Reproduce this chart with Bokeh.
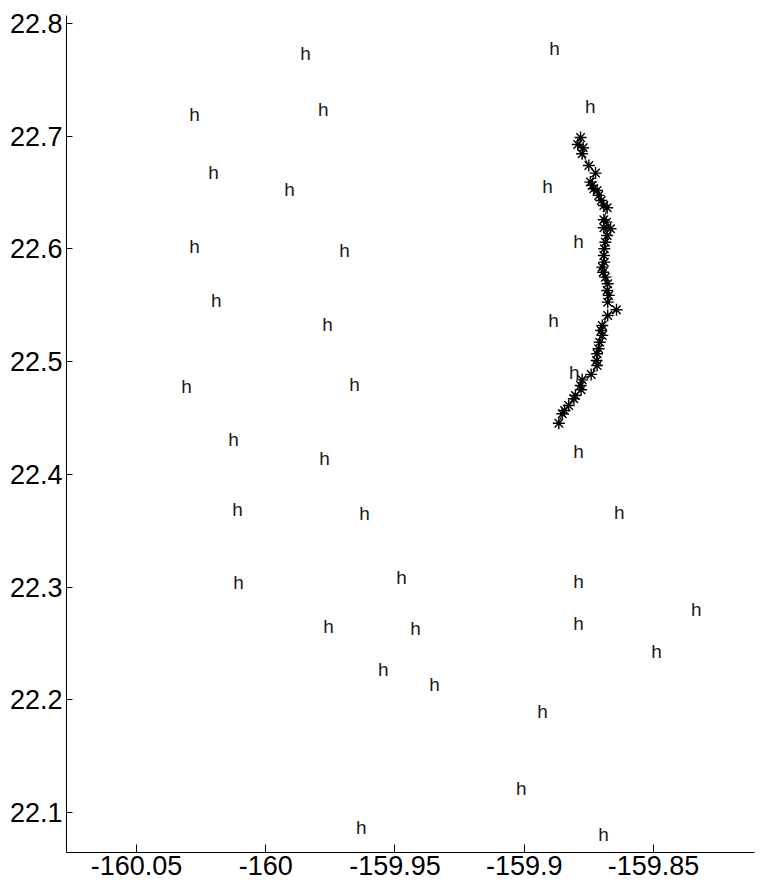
from bokeh.plotting import figure
from bokeh.models import FixedTicker, Range1d
from bokeh.embed import file_html
from bokeh.resources import INLINE
from bokeh.core.properties import value

# ---- data (longitude / latitude) ----
h_lon = [-159.9846, -159.8883, -160.0276, -159.9777, -159.8744, -160.0202, -159.9908,
         -159.8910, -160.0276, -159.9695, -159.8790, -160.0191, -159.9761, -159.8887,
         -160.0307, -159.9657, -159.8806, -160.0125, -159.9773, -159.8790, -160.0109,
         -159.9618, -159.8632, -160.0105, -159.9475, -159.8790, -159.8334, -159.9757,
         -159.9421, -159.8790, -159.9545, -159.8488, -159.9347, -159.8929, -159.9011,
         -159.9630, -159.8693]
h_lat = [22.7734, 22.7778, 22.7193, 22.7237, 22.7264, 22.6678, 22.6527,
         22.6554, 22.6021, 22.5986, 22.6066, 22.5542, 22.5329, 22.5365,
         22.4779, 22.4797, 22.4903, 22.4309, 22.4140, 22.4202, 22.3688,
         22.3652, 22.3661, 22.3040, 22.3084, 22.3049, 22.2800, 22.2650,
         22.2632, 22.2676, 22.2268, 22.2428, 22.2135, 22.1895, 22.1212,
         22.0866, 22.0804]

track_lon = [-159.8782, -159.8793, -159.8772, -159.8776, -159.8750, -159.8724, -159.8744,
             -159.8737, -159.8731, -159.8718, -159.8712, -159.8702, -159.8692, -159.8679,
             -159.8692, -159.8682, -159.8666, -159.8692, -159.8679, -159.8686, -159.8690,
             -159.8692, -159.8690, -159.8698, -159.8695, -159.8686, -159.8677, -159.8679,
             -159.8673, -159.8677, -159.8643, -159.8677, -159.8698, -159.8702, -159.8698,
             -159.8708, -159.8712, -159.8718, -159.8720, -159.8718, -159.8741, -159.8776,
             -159.8782, -159.8780, -159.8802, -159.8808, -159.8828, -159.8844, -159.8853,
             -159.8866]
track_lat = [22.6988, 22.6926, 22.6897, 22.6844, 22.6740, 22.6672, 22.6592,
             22.6563, 22.6533, 22.6518, 22.6474, 22.6429, 22.6385, 22.6365,
             22.6258, 22.6237, 22.6178, 22.6187, 22.6119, 22.6059, 22.6001,
             22.5941, 22.5882, 22.5838, 22.5793, 22.5749, 22.5690, 22.5631,
             22.5587, 22.5527, 22.5460, 22.5409, 22.5320, 22.5276, 22.5232,
             22.5172, 22.5114, 22.5069, 22.5010, 22.4965, 22.4886, 22.4838,
             22.4788, 22.4750, 22.4699, 22.4670, 22.4610, 22.4566, 22.4537,
             22.4453]

x_ticks = [-160.05, -160.0, -159.95, -159.9, -159.85]
x_tick_labels = ["-160.05", "-160", "-159.95", "-159.9", "-159.85"]
y_ticks = [22.1, 22.2, 22.3, 22.4, 22.5, 22.6, 22.7, 22.8]
y_tick_labels = ["22.1", "22.2", "22.3", "22.4", "22.5", "22.6", "22.7", "22.8"]

FONT = "Liberation Sans"

p = figure(width=759, height=886, frame_width=688, frame_height=837,
           output_backend="svg", toolbar_location=None,
           x_range=Range1d(-160.0771, -159.8109), y_range=Range1d(22.0645, 22.807),
           min_border_left=66, min_border_right=5, min_border_top=15, min_border_bottom=34)

p.outline_line_color = None
p.xgrid.grid_line_color = None
p.ygrid.grid_line_color = None
p.background_fill_color = "white"
p.border_fill_color = "white"

for ax in (p.xaxis[0], p.yaxis[0]):
    ax.axis_line_color = "black"
    ax.axis_line_width = 1
    ax.major_tick_line_color = "black"
    ax.minor_tick_line_color = None
    ax.major_tick_out = 0
    ax.major_label_text_font = FONT
    ax.major_label_text_font_size = "27px"
    ax.major_label_text_color = "black"
    ax.major_label_standoff = 4

p.xaxis[0].ticker = FixedTicker(ticks=x_ticks)
p.xaxis[0].major_label_overrides = dict(zip(x_ticks, x_tick_labels))
p.xaxis[0].major_tick_in = 8
p.xaxis[0].major_label_standoff = 3
p.yaxis[0].ticker = FixedTicker(ticks=y_ticks)
p.yaxis[0].major_label_overrides = dict(zip(y_ticks, y_tick_labels))
p.yaxis[0].major_tick_in = 6

p.text(x=h_lon, y=h_lat, text=["h"] * len(h_lon), text_font=value(FONT),
       text_font_size="19px", text_color="#1a1a1a",
       text_align="center", text_baseline="middle")

p.line(track_lon, track_lat, line_color="black", line_width=1)
p.scatter(track_lon, track_lat, marker="asterisk", size=12,
          line_color="black", line_width=1.4)

open("out.html", "w").write(file_html(p, INLINE))
